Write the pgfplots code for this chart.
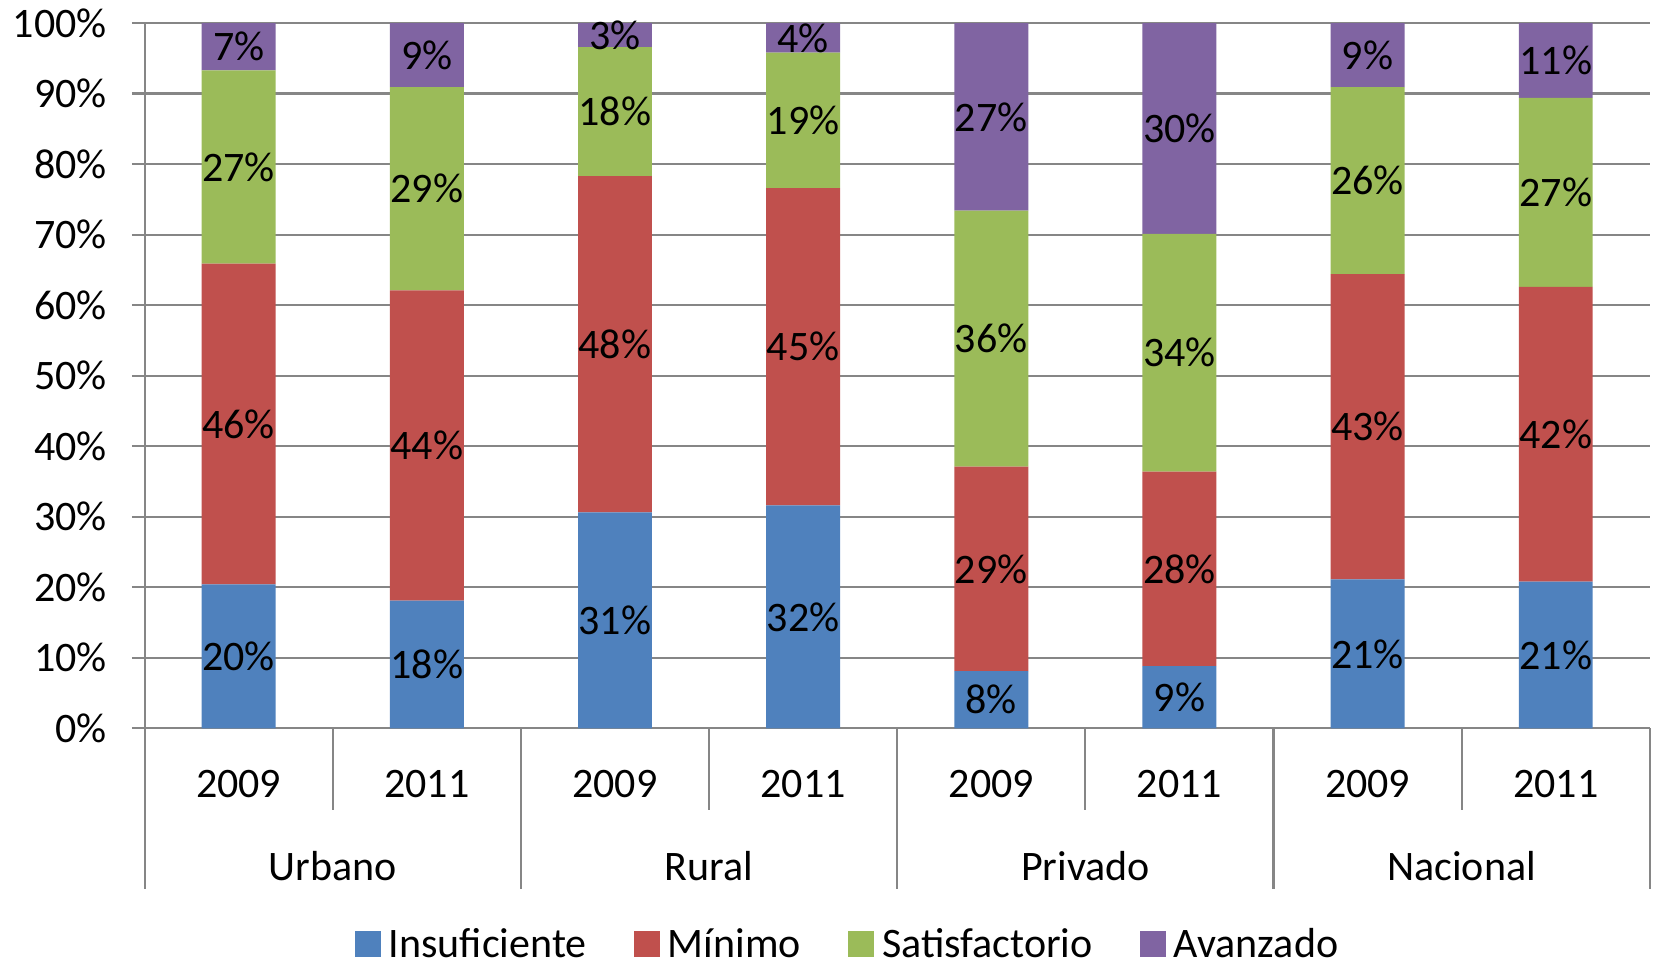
\documentclass[border=0pt]{standalone}
\usepackage{pgfplots}
\pgfplotsset{compat=1.18}
\usepackage{pgfplotstable}
\usepackage{fontspec}
\setmainfont{Carlito}
\definecolor{cIns}{HTML}{4F81BD}
\definecolor{cMin}{HTML}{C0504D}
\definecolor{cSat}{HTML}{9BBB59}
\definecolor{cAva}{HTML}{8064A2}
\definecolor{cAx}{HTML}{868686}

\pgfplotstableread{
x ins insl mim miml sat satl ava aval
0 20.4 20 45.5 46 27.4 27 6.7 7
1 18.1 18 44.0 44 28.8 29 9.1 9
2 30.6 31 47.7 48 18.3 18 3.4 3
3 31.6 32 45.0 45 19.2 19 4.2 4
4 8.1 8 29.0 29 36.3 36 26.6 27
5 8.8 9 27.6 28 33.7 34 29.9 30
6 21.1 21 43.3 43 26.5 26 9.1 9
7 20.8 21 41.8 42 26.8 27 10.6 11
}\data

\begin{document}
\fontsize{10.5pt}{12.6pt}\selectfont
\begin{tikzpicture}
\path[use as bounding box] (0,0) rectangle (413.75pt,240.5pt);
\begin{axis}[
  at={(36.15pt,58.43pt)}, anchor=south west,
  scale only axis, width=376.3pt, height=176.3pt,
  ybar stacked, bar width=0.393,
  xmin=-0.5, xmax=7.5, ymin=0, ymax=100,
  axis x line*=bottom, axis y line*=left,
  xtick=\empty,
  ytick={0,10,...,100},
  yticklabel={\pgfmathprintnumber{\tick}\%},
  /pgf/number format/assume math mode=true,
  yticklabel style={xshift=-2.6pt},
  ymajorgrids,
  grid style={cAx, line width=0.55pt},
  axis line style={cAx, line width=0.55pt},
  tick style={cAx, line width=0.55pt},
  tick align=outside, major tick length=3.2pt,
  clip=false,
  point meta=explicit symbolic,
  nodes near coords={\pgfplotspointmeta\%},
  every node near coord/.append style={anchor=center, text=black},
  legend columns=4,
  legend style={at={(0.469,-0.309)}, anchor=center, draw=none, fill=none,
    /tikz/every even column/.append style={column sep=9.8pt},
    /tikz/every odd column/.append style={column sep=0pt}},
  legend cell align=left,
  legend image code/.code={\fill[#1] (0pt,-2.75pt) rectangle (6.5pt,3.75pt);},
]
\addplot[fill=cIns, draw=none] table[x=x, y=ins, meta=insl] {\data};
\addplot[fill=cMin, draw=none] table[x=x, y=mim, meta=miml] {\data};
\addplot[fill=cSat, draw=none] table[x=x, y=sat, meta=satl] {\data};
\addplot[fill=cAva, draw=none] table[x=x, y=ava, meta=aval] {\data};
\legend{Insuficiente, Mínimo, Satisfactorio, Avanzado}

\draw[cAx, line width=0.55pt] (axis cs:-0.5,0) -- (axis cs:-0.5,-22.8);
\draw[cAx, line width=0.55pt] (axis cs:1.5,0) -- (axis cs:1.5,-22.8);
\draw[cAx, line width=0.55pt] (axis cs:3.5,0) -- (axis cs:3.5,-22.8);
\draw[cAx, line width=0.55pt] (axis cs:5.5,0) -- (axis cs:5.5,-22.8);
\draw[cAx, line width=0.55pt] (axis cs:7.5,0) -- (axis cs:7.5,-22.8);
\draw[cAx, line width=0.55pt] (axis cs:0.5,0) -- (axis cs:0.5,-11.6);
\draw[cAx, line width=0.55pt] (axis cs:2.5,0) -- (axis cs:2.5,-11.6);
\draw[cAx, line width=0.55pt] (axis cs:4.5,0) -- (axis cs:4.5,-11.6);
\draw[cAx, line width=0.55pt] (axis cs:6.5,0) -- (axis cs:6.5,-11.6);

\node at (axis cs:0,-7.9) {2009};
\node at (axis cs:1,-7.9) {2011};
\node at (axis cs:2,-7.9) {2009};
\node at (axis cs:3,-7.9) {2011};
\node at (axis cs:4,-7.9) {2009};
\node at (axis cs:5,-7.9) {2011};
\node at (axis cs:6,-7.9) {2009};
\node at (axis cs:7,-7.9) {2011};
\node at (axis cs:0.5,-19.5) {Urbano};
\node at (axis cs:2.5,-19.5) {Rural};
\node at (axis cs:4.5,-19.5) {Privado};
\node at (axis cs:6.5,-19.5) {Nacional};
\end{axis}
\end{tikzpicture}
\end{document}
